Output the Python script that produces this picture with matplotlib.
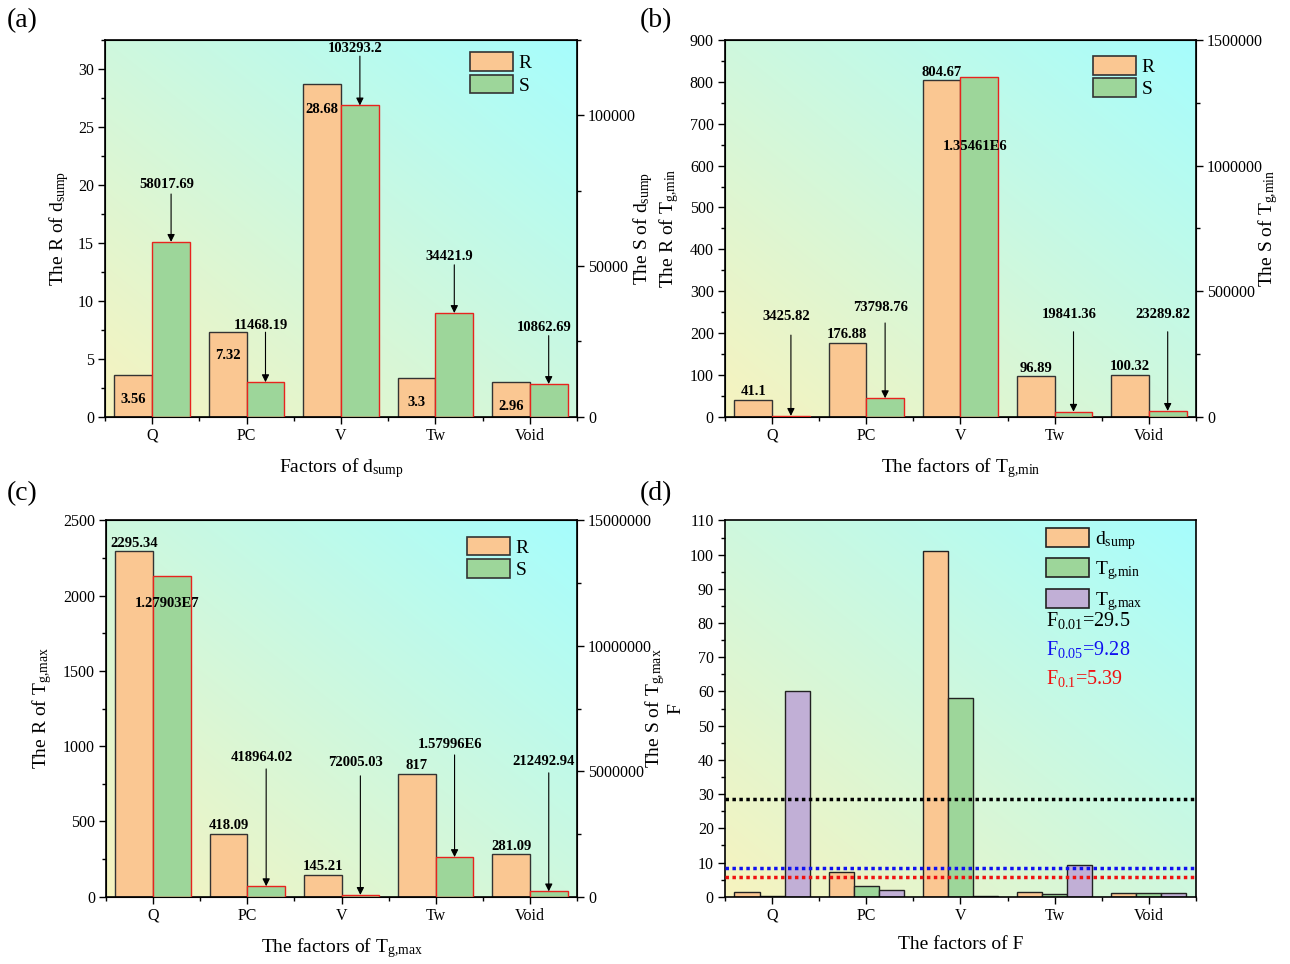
import numpy as np
import matplotlib
matplotlib.use('Agg')
import matplotlib.pyplot as plt
from matplotlib.patches import Patch
from matplotlib.ticker import MultipleLocator

plt.rcParams['font.family'] = ['Liberation Serif', 'DejaVu Serif']
plt.rcParams['mathtext.fontset'] = 'custom'
plt.rcParams['mathtext.rm'] = 'Liberation Serif'
plt.rcParams['mathtext.it'] = 'Liberation Serif:italic'
plt.rcParams['mathtext.bf'] = 'Liberation Serif:bold'

factors = ['Q', 'PC', 'V', 'Tw', 'Void']

# (a) d_sump
R_dsump = [3.56, 7.32, 28.68, 3.3, 2.96]
S_dsump = [58017.69, 11468.19, 103293.2, 34421.9, 10862.69]
S_dsump_txt = ['58017.69', '11468.19', '103293.2', '34421.9', '10862.69']

# (b) Tg,min
R_tgmin = [41.1, 176.88, 804.67, 96.89, 100.32]
S_tgmin = [3425.82, 73798.76, 1354610, 19841.36, 23289.82]
S_tgmin_txt = ['3425.82', '73798.76', '1.35461E6', '19841.36', '23289.82']

# (c) Tg,max
R_tgmax = [2295.34, 418.09, 145.21, 817, 281.09]
S_tgmax = [12790300, 418964.02, 72005.03, 1579960, 212492.94]
S_tgmax_txt = ['1.27903E7', '418964.02', '72005.03', '1.57996E6', '212492.94']

# (d) F values
F_dsump = [1.46, 7.1, 101.1, 1.27, 1.0]
F_tgmin = [0.15, 3.17, 58.16, 0.85, 1.0]
F_tgmax = [60.19, 1.97, 0.34, 9.4, 1.0]
F_crit_labels = ['29.5', '9.28', '5.39']
F_crit_lines = [28.7, 8.3, 5.65]

C_R = '#FAC792'
C_S = '#9DD69A'
C_P = '#C1AFD6'
EDGE_R = '#333333'
EDGE_S = '#E8231E'

GMIN = r'T$_{\mathrm{g{,}min}}$'
GMAX = r'T$_{\mathrm{g{,}max}}$'
DSUMP = r'd$_{\mathrm{sump}}$'

fig = plt.figure(figsize=(12.9, 9.64), dpi=100)
x = np.arange(len(factors))
w = 0.4


def gradient(ax):
    n = 200
    gx, gy = np.meshgrid(np.linspace(0, 1, n), np.linspace(0, 1, n))
    t = ((gx + gy) / 2)[..., None]
    c0 = np.array([247, 243, 191]) / 255
    c1 = np.array([166, 253, 253]) / 255
    img = c0 + (c1 - c0) * t
    ax.imshow(img, origin='lower', extent=[0, 1, 0, 1], transform=ax.transAxes,
              aspect='auto', zorder=0, interpolation='bilinear')


def base_axes(rect, ymax, ystep):
    ax = fig.add_axes(rect)
    gradient(ax)
    ax.set_xlim(-0.5, 4.5)
    ax.set_ylim(0, ymax)
    ax.set_xticks(x)
    ax.set_xticklabels(factors)
    ax.set_xticks(np.arange(-0.5, 5, 1), minor=True)
    ax.yaxis.set_major_locator(MultipleLocator(ystep))
    ax.yaxis.set_minor_locator(MultipleLocator(ystep / 2))
    ax.tick_params(which='major', direction='out', length=5, width=1, labelsize=11.5, pad=3)
    ax.tick_params(which='minor', direction='out', length=3, width=1)
    for s in ax.spines.values():
        s.set_linewidth(1.2)
    return ax


def right_axes(ax, ymax, ystep):
    ax2 = ax.twinx()
    ax2.set_ylim(0, ymax)
    ax2.yaxis.set_major_locator(MultipleLocator(ystep))
    ax2.yaxis.set_minor_locator(MultipleLocator(ystep / 2))
    ax2.ticklabel_format(style='plain', axis='y', useOffset=False)
    ax2.tick_params(which='major', direction='out', length=5, width=1, labelsize=11.5, pad=3)
    ax2.tick_params(which='minor', direction='out', length=3, width=1)
    return ax2


def rs_bars(ax, ax2, R, S):
    ax.bar(x - w / 2, R, w, color=C_R, edgecolor=EDGE_R, lw=1, zorder=2)
    ax2.bar(x + w / 2, S, w, color=C_S, edgecolor=EDGE_S, lw=1, zorder=2)
    handles = [Patch(facecolor=C_R, edgecolor=EDGE_R, lw=1.2),
               Patch(facecolor=C_S, edgecolor=EDGE_R, lw=1.2)]
    return handles


def legend(ax, handles, labels, anchor, spacing=0.12):
    ax.legend(handles, labels, loc='upper left', bbox_to_anchor=anchor, frameon=False,
              fontsize=14, handlelength=2.2, handleheight=1.1, labelspacing=spacing,
              handletextpad=0.3, borderpad=0, borderaxespad=0)


def s_notes(ax, ax2, S, txt, ty, ay):
    # ty: text centre (left-axis units), ay: arrow start (left-axis units), None = no arrow
    for i in range(len(S)):
        ax2.text(x[i] + w / 2 - 0.05, ty[i], txt[i], transform=ax.transData, ha='center',
                 va='center', fontsize=10.5, fontweight='bold', zorder=5)
        if ay[i] is not None:
            ax2.annotate('', xy=(x[i] + w / 2, S[i]), xytext=(x[i] + w / 2, ay[i]),
                         textcoords=ax.transData,
                         arrowprops=dict(arrowstyle='-|>', color='black', lw=0.8,
                                         mutation_scale=11, shrinkA=0, shrinkB=0))


def r_notes_above(ax, R):
    for i in range(len(R)):
        ax.annotate(f'{R[i]:g}', (x[i] - w / 2, R[i]), xytext=(0, 1), textcoords='offset points',
                    ha='center', va='bottom', fontsize=10.5, fontweight='bold', zorder=5)


def labels(ax, xl, yl, lx, ax2=None, yr=None, rx=None):
    ax.set_xlabel(xl, fontsize=14)
    ax.set_ylabel(yl, fontsize=14)
    ax.xaxis.set_label_coords(0.5, -0.105)
    ax.yaxis.set_label_coords(lx, 0.5)
    if ax2 is not None:
        ax2.set_ylabel(yr, fontsize=14)
        ax2.yaxis.set_label_coords(rx, 0.5)


# ---------------- (a)
ax = base_axes([0.0814, 0.5677, 0.3659, 0.3908], 32.5, 5)
ax2 = right_axes(ax, 125000, 50000)
h = rs_bars(ax, ax2, R_dsump, S_dsump)
for i, yy in enumerate([1.5, 5.3, 26.5, 1.2, 0.85]):
    ax.text(x[i] - w / 2, yy, f'{R_dsump[i]:g}', ha='center', va='center',
            fontsize=10.5, fontweight='bold', zorder=5)
k = 32.5 / 125000
s_notes(ax, ax2, S_dsump, S_dsump_txt,
        [77000 * k, 30240 * k, 122100 * k, 53170 * k, 29460 * k],
        [73900 * k, 28050 * k, 119640 * k, 50400 * k, 26900 * k])
legend(ax2, h, ['R', 'S'], (0.773, 0.967))
labels(ax, 'Factors of ' + DSUMP, 'The R of ' + DSUMP, -0.072, ax2, 'The S of ' + DSUMP, 1.114)

# ---------------- (b)
ax = base_axes([0.562, 0.5677, 0.3651, 0.3908], 900, 100)
ax2 = right_axes(ax, 1500000, 500000)
h = rs_bars(ax, ax2, R_tgmin, S_tgmin)
r_notes_above(ax, R_tgmin)
s_notes(ax, ax2, S_tgmin, S_tgmin_txt,
        [240, 262, 645, 245, 245],
        [195, 224, None, 203, 203])
legend(ax2, h, ['R', 'S'], (0.781, 0.957))
labels(ax, 'The factors of ' + GMIN, 'The R of ' + GMIN, -0.093, ax2, 'The S of ' + GMIN, 1.127)

# ---------------- (c)
ax = base_axes([0.0822, 0.0698, 0.3651, 0.3903], 2500, 500)
ax2 = right_axes(ax, 15000000, 5000000)
h = rs_bars(ax, ax2, R_tgmax, S_tgmax)
r_notes_above(ax, R_tgmax)
s_notes(ax, ax2, S_tgmax, S_tgmax_txt,
        [1950, 922, 895, 1014, 901],
        [None, 849, 803, 942, 823])
legend(ax2, h, ['R', 'S'], (0.766, 0.957))
labels(ax, 'The factors of ' + GMAX, 'The R of ' + GMAX, -0.110, ax2, 'The S of ' + GMAX, 1.140)

# ---------------- (d)
ax = base_axes([0.562, 0.0698, 0.3651, 0.3903], 110, 10)
wd = 0.266
ax.bar(x - wd, F_dsump, wd, color=C_R, edgecolor='#222222', lw=1, zorder=2)
ax.bar(x, F_tgmin, wd, color=C_S, edgecolor='#222222', lw=1, zorder=2)
ax.bar(x + wd, F_tgmax, wd, color=C_P, edgecolor='#222222', lw=1, zorder=2)
line_colors = ['black', '#1010F0', '#F01010']
for v, c in zip(F_crit_lines, line_colors):
    ax.axhline(v, color=c, lw=2.5, ls=(0, (1, 1)), zorder=3)
hd = [Patch(facecolor=C_R, edgecolor='#222222', lw=1.2),
      Patch(facecolor=C_S, edgecolor='#222222', lw=1.2),
      Patch(facecolor=C_P, edgecolor='#222222', lw=1.2)]
legend(ax, hd, [DSUMP, GMIN, GMAX], (0.682, 0.98), spacing=0.35)
for lbl, sub, yy, c in zip(F_crit_labels, ['0.01', '0.05', '0.1'], [0.733, 0.656, 0.579], line_colors):
    ax.text(0.682, yy, r'F$_{\mathrm{' + sub + '}}$=' + lbl, transform=ax.transAxes,
            ha='left', va='center', fontsize=14.5, color=c, zorder=5)
labels(ax, 'The factors of F', 'F', -0.087)

for lbl, fx, fy in [('(a)', 0.005, 0.979), ('(b)', 0.496, 0.979), ('(c)', 0.005, 0.488), ('(d)', 0.496, 0.488)]:
    fig.text(fx, fy, lbl, fontsize=20, ha='left', va='center')

fig.savefig('out.png', dpi=100)
